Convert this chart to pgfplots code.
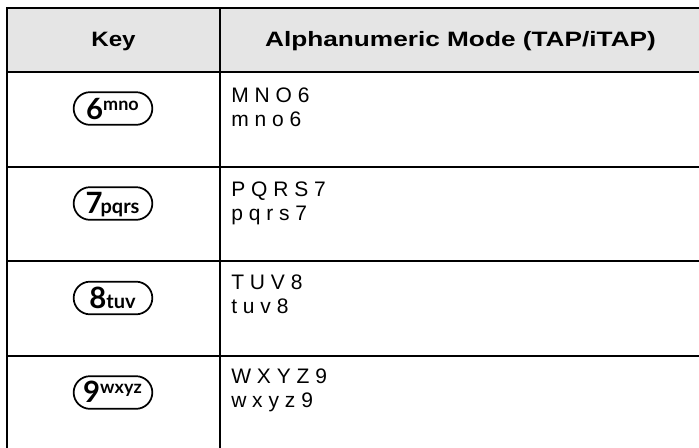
\documentclass[border=0pt]{standalone}
\usepackage{pgfplots}
\pgfplotsset{compat=1.18}
\usepackage{fontspec}
\setmainfont{Liberation Sans}
\newfontfamily\keyfont{Lato}
\usetikzlibrary{shapes.misc}
\newcommand{\keysup}[1]{\raisebox{6.5pt}{\fontsize{13.5}{13.5}\selectfont #1}}
\newcommand{\keysub}[1]{{\fontsize{15}{15}\selectfont #1}}

\begin{document}
\begin{tikzpicture}
\begin{axis}[scale only axis, width=524.25pt, height=335.25pt,
  xmin=0, xmax=699, ymin=0, ymax=447, y dir=reverse, hide axis, clip=false]
% header background
\fill[black!10] (axis cs:7,8) rectangle (axis cs:702,71.5);
% grid lines
\addplot[black, line width=1.5pt, no markers] coordinates {(6,8) (702,8)};
\addplot[black, line width=1.5pt, no markers] coordinates {(6,71.5) (702,71.5)};
\addplot[black, line width=1.5pt, no markers] coordinates {(6,166.5) (702,166.5)};
\addplot[black, line width=1.5pt, no markers] coordinates {(6,261) (702,261)};
\addplot[black, line width=1.5pt, no markers] coordinates {(6,355.5) (702,355.5)};
\addplot[black, line width=1.5pt, no markers] coordinates {(7,7) (7,450)};
\addplot[black, line width=1.5pt, no markers] coordinates {(219.5,7) (219.5,450)};
% header text
\node[anchor=base, inner sep=0, font=\fontsize{15.6}{18}\selectfont\bfseries] at (axis cs:113.5,46.5) {\scalebox{1.16}[1]{Key}};
\node[anchor=base, inner sep=0, font=\fontsize{15.6}{18}\selectfont\bfseries] at (axis cs:460.5,46.5) {\scalebox{1.26}[1]{Alphanumeric Mode (TAP/iTAP)}};
% body text
\tikzset{body/.style={anchor=base west, inner sep=0, font=\fontsize{15.75}{18}\selectfont}}
\node[body] at (axis cs:231,102) {M N O 6};
\node[body] at (axis cs:231,126) {m n o 6};
\node[body] at (axis cs:231,196.5) {P Q R S 7};
\node[body] at (axis cs:231,220) {p q r s 7};
\node[body] at (axis cs:231,289.5) {T U V 8};
\node[body] at (axis cs:231,313) {t u v 8};
\node[body] at (axis cs:231,383) {W X Y Z 9};
\node[body] at (axis cs:231,407) {w x y z 9};
% keys
\tikzset{key/.style={draw, rounded rectangle, line width=1.3pt, minimum width=59pt, minimum height=24.5pt, inner sep=0}}
\tikzset{keytxt/.style={anchor=base, inner sep=0, font=\keyfont\bfseries\fontsize{22}{22}\selectfont}}
\node[key] at (axis cs:113,108.5) {};
\node[keytxt] at (axis cs:112.5,119) {6\keysup{mno}};
\node[key] at (axis cs:113,203.5) {};
\node[keytxt] at (axis cs:112.5,213) {7\kern-1.5pt\keysub{pqrs}};
\node[key] at (axis cs:113,298) {};
\node[keytxt] at (axis cs:112.5,308) {8\keysub{tuv}};
\node[key] at (axis cs:113,392.5) {};
\node[keytxt] at (axis cs:112.5,402.5) {9\keysup{wxyz}};
\end{axis}
\pgfresetboundingbox
\path (current axis.south west) rectangle (current axis.north east);
\end{tikzpicture}
\end{document}
